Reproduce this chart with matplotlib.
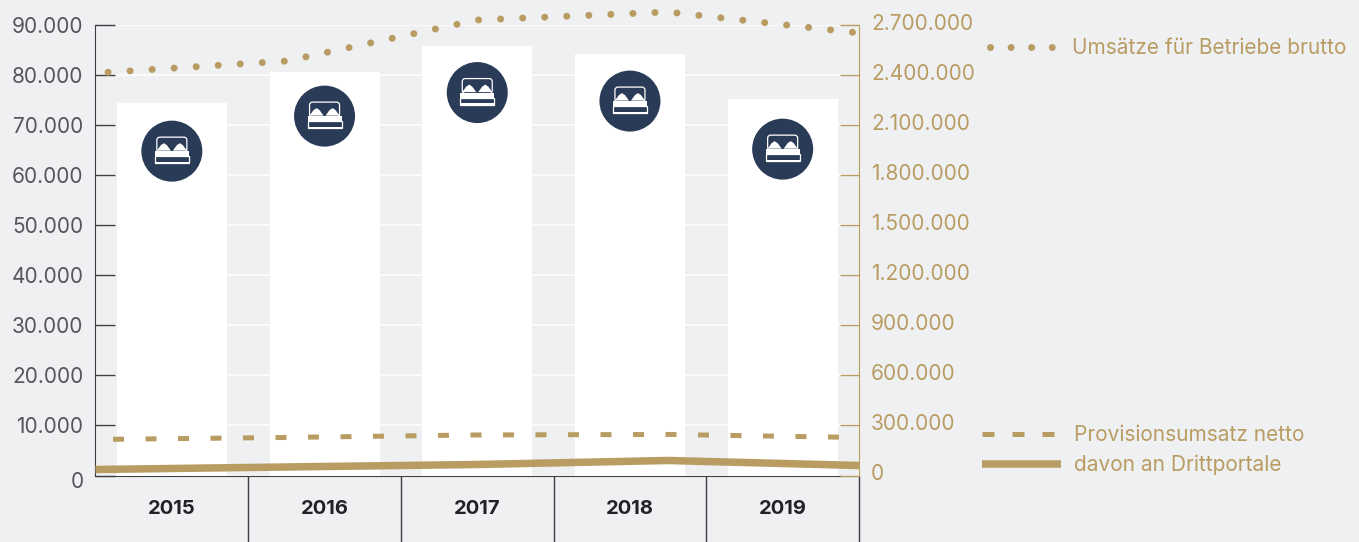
import numpy as np
import matplotlib
matplotlib.use("Agg")
import matplotlib.pyplot as plt
from matplotlib.lines import Line2D
from matplotlib.offsetbox import AnnotationBbox, DrawingArea
from matplotlib.patches import Circle, FancyBboxPatch, Polygon, Rectangle
from matplotlib.transforms import ScaledTranslation

plt.rcParams["font.family"] = ["Inter", "DejaVu Sans"]

years = ["2015", "2016", "2017", "2018", "2019"]
# Balken (linke Achse)
bar_values = [74400, 80600, 85800, 84200, 75200]
# Hoehe der Bett-Symbole (linke Achse)
icon_values = [64800, 71800, 76500, 74800, 65200]
# Linien (rechte Achse)
umsatz_brutto = [2412000, 2484000, 2730000, 2778000, 2652000]
provision_netto = [216000, 228000, 243000, 246000, 228000]
drittportale = [36000, 51000, 66000, 90000, 60000]

left_ticks = [0, 10000, 20000, 30000, 40000, 50000, 60000, 70000, 80000, 90000]
left_labels = ["0", "10.000", "20.000", "30.000", "40.000", "50.000",
               "60.000", "70.000", "80.000", "90.000"]
right_ticks = [0, 300000, 600000, 900000, 1200000, 1500000, 1800000, 2100000, 2400000, 2700000]
right_labels = ["0", "300.000", "600.000", "900.000", "1.200.000", "1.500.000",
                "1.800.000", "2.100.000", "2.400.000", "2.700.000"]

BG = "#eff0f2"
GOLD = "#b99c62"
DARK = "#3d3d42"
NAVY = "#2a3b57"
PX = 0.72  # 1 Pixel in Punkten bei dpi=100

fig = plt.figure(figsize=(13.59, 5.42), dpi=100, facecolor=BG)
ax = fig.add_axes([95.5 / 1359, (542 - 475.5) / 542, (859 - 95.5) / 1359, 450.5 / 542])
ax.set_facecolor(BG)

x = np.arange(len(years))
ax.bar(x, bar_values, width=0.72, color="white", zorder=3)
ax.set_xlim(-0.5, 4.5)
ax.set_ylim(0, 90000)
ax.set_axisbelow(True)
ax.yaxis.grid(True, color="white", linewidth=1.5 * PX)
ax.spines[["top", "right"]].set_visible(False)
ax.spines["left"].set_color(DARK)
ax.spines["bottom"].set_color(DARK)

ax.set_yticks(left_ticks, left_labels)
ax.tick_params(axis="y", direction="in", length=20 * PX, width=1, color=DARK,
               labelsize=15, labelcolor="#55555a", pad=12 * PX + 20 * PX * 0)
ax.set_xticks(x, years)
ax.tick_params(axis="x", which="major", length=0, labelsize=14.5, labelcolor="#222226", pad=25 * PX)
for lab in ax.get_xticklabels():
    lab.set_fontweight("bold")
# Trennstriche unter der Achse
ax.set_xticks(x + 0.5, minor=True)
ax.tick_params(axis="x", which="minor", direction="out", length=67 * PX, width=1, color=DARK)


def bed_icon():
    # Bett im Kreis, Einheiten ~ Pixel
    da = DrawingArea(62 * PX, 62 * PX, 0, 0)
    k = PX
    cx, cy = 31 * k, 31 * k
    da.add_artist(Circle((cx, cy), 30.5 * k, fc=NAVY, ec="none"))
    da.add_artist(FancyBboxPatch((cx - 15 * k, cy - 1 * k), 30 * k, 15 * k,
                                 boxstyle=f"round,pad=0,rounding_size={3 * k}",
                                 fc="none", ec="white", lw=0.9))
    for off in (-8, 8):
        da.add_artist(Polygon([(cx + (off - 7) * k, cy + 0.5 * k), (cx + (off - 3) * k, cy + 6 * k),
                               (cx + off * k, cy + 8 * k), (cx + (off + 3) * k, cy + 6 * k),
                               (cx + (off + 7) * k, cy + 0.5 * k)], fc="white", ec="none"))
    da.add_artist(Rectangle((cx - 17 * k, cy - 5 * k), 34 * k, 5 * k, fc="white", ec="none"))
    da.add_artist(Rectangle((cx - 17 * k, cy - 12 * k), 34 * k, 7 * k, fc=NAVY, ec="white", lw=0.9))
    da.add_artist(Rectangle((cx - 17 * k, cy - 12.5 * k), 34 * k, 2 * k, fc="white", ec="none"))
    return da


for xi, yi in zip(x, icon_values):
    ab = AnnotationBbox(bed_icon(), (xi, yi), xycoords="data", frameon=False,
                        pad=0, box_alignment=(0.5, 0.5), zorder=4)
    ax.add_artist(ab)

# rechte Achse mit den Linien
ax2 = ax.twinx()
ax2.set_ylim(0, 2700000)
ax2.spines[["top", "left", "bottom"]].set_visible(False)
ax2.spines["right"].set_color(GOLD)
ax2.set_yticks(right_ticks, right_labels)
ax2.tick_params(axis="y", direction="in", length=19 * PX, width=1, color=GOLD,
                labelsize=15, labelcolor=GOLD, pad=12 * PX)

line_x = np.linspace(-0.5, 4.5, len(years))
dots, = ax2.plot(line_x, umsatz_brutto, color=GOLD, linewidth=7 * PX, clip_on=False,
                 dash_capstyle="round", linestyle=(9.5 / 7, (0.01, 22 / 7)),
                 label="Umsätze für Betriebe brutto")
dashes, = ax2.plot(line_x, provision_netto, color=GOLD, linewidth=5 * PX, clip_on=False,
                   dash_capstyle="butt", linestyle=(15 / 5, (11 / 5, 21.5 / 5)),
                   label="Provisionsumsatz netto")
solid, = ax2.plot(line_x, drittportale, color=GOLD, linewidth=7.5 * PX, clip_on=False,
                  solid_capstyle="butt", label="davon an Drittportale")

# Achsenbeschriftung leicht versetzt wie im Original
ax2_shift = ScaledTranslation(0, 3 / 72 * PX, fig.dpi_scale_trans)
for lab in ax2.get_yticklabels():
    lab.set_transform(lab.get_transform() + ax2_shift)
for lab, val in zip(ax.get_yticklabels(), left_ticks):
    if val == 0:
        lab.set_transform(lab.get_transform() + ScaledTranslation(0, -5 / 72 * PX, fig.dpi_scale_trans))

# Legenden
h1 = Line2D([], [], color=GOLD, linewidth=7 * PX, dash_capstyle="round", linestyle=(0, (0.01, 20.5 / 7)))
leg1 = fig.legend([h1], [dots.get_label()], loc="center left", frameon=False, fontsize=15,
                  labelcolor=GOLD, bbox_to_anchor=(990 / 1359, 1 - 48.5 / 542), borderpad=0,
                  borderaxespad=0, handlelength=3.2, handletextpad=0.75)
h2 = Line2D([], [], color=GOLD, linewidth=5 * PX, dash_capstyle="butt", linestyle=(0, (12 / 5, 18 / 5)))
h3 = Line2D([], [], color=GOLD, linewidth=7.5 * PX, solid_capstyle="butt")
leg2 = fig.legend([h2, h3], [dashes.get_label(), solid.get_label()], loc="center left", frameon=False,
                  fontsize=15, labelcolor=GOLD, bbox_to_anchor=(982 / 1359, 1 - 450 / 542), borderpad=0,
                  borderaxespad=0, handlelength=3.8, handletextpad=0.6, labelspacing=0.45)

fig.savefig("out.png", dpi=100, facecolor=BG)
